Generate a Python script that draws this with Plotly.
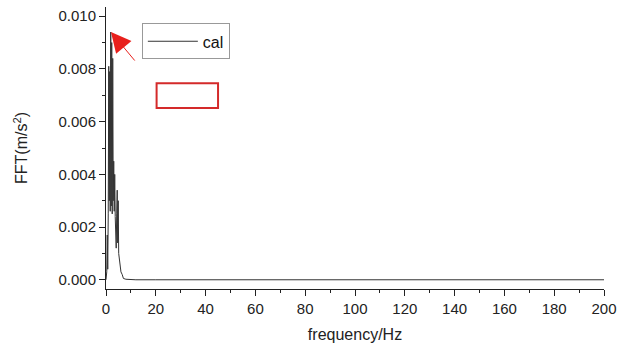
import plotly.graph_objects as go

# Frequency (Hz) and FFT amplitude (m/s^2)
freq = [0.0, 0.3, 0.5, 0.7, 0.9, 1.1, 1.3, 1.5, 1.7, 1.9, 2.1, 2.3, 2.5, 2.7, 2.9,
        3.1, 3.3, 3.5, 3.7, 3.9, 4.1, 4.3, 4.5, 4.7, 4.9, 5.1, 5.5, 6.0, 6.5, 7.0,
        8.0, 10.0, 12.0, 20.0, 50.0, 100.0, 150.0, 200.0]
amp = [0.0, 0.0003, 0.0017, 0.0004, 0.0025, 0.0081, 0.0030, 0.0079, 0.0026, 0.0094,
       0.0028, 0.0090, 0.0025, 0.0084, 0.0030, 0.0045, 0.0026, 0.0040, 0.0024, 0.0018,
       0.0012, 0.0025, 0.0034, 0.0014, 0.0030, 0.0010, 0.0006, 0.0003, 0.0002, 0.00005,
       0.00002, 0.00001, 0.0, 0.0, 0.0, 0.0, 0.0, 0.0]

series_name = "cal"
x_title = "frequency/Hz"
y_title = "FFT(m/s<sup>2</sup>)"

fig = go.Figure()
fig.add_trace(go.Scatter(x=freq, y=amp, mode="lines", name=series_name,
                         line=dict(color="#333333", width=1)))

font_family = "Liberation Sans, Arial, sans-serif"

fig.update_layout(
    width=624, height=347,
    margin=dict(l=106, r=14, t=7, b=56),
    paper_bgcolor="white", plot_bgcolor="white",
    font=dict(family=font_family, size=15, color="#222222"),
    showlegend=True,
    legend=dict(x=0.072, y=0.942, xanchor="left", yanchor="top",
                bordercolor="#999999", borderwidth=1, bgcolor="white",
                font=dict(size=16, color="#111111"),
                itemwidth=50, tracegroupgap=0),
    xaxis=dict(range=[0, 200], tickmode="linear", tick0=0, dtick=20,
               showgrid=False, zeroline=False, showline=True,
               linecolor="#222222", linewidth=1, ticks="outside", ticklen=6,
               tickcolor="#222222", mirror=False, ticklabeloverflow="allow",
               minor=dict(ticks="outside", ticklen=3, dtick=10, tickcolor="#222222"),
               title=dict(text=x_title, font=dict(size=16), standoff=12),
               tickfont=dict(size=15)),
    yaxis=dict(range=[-0.00035, 0.01035], tickmode="linear", tick0=0, dtick=0.002,
               tickformat=".3f", ticklabeloverflow="allow",
               showgrid=False, zeroline=False, showline=True,
               linecolor="#222222", linewidth=1, ticks="outside", ticklen=6,
               tickcolor="#222222", mirror=False,
               minor=dict(ticks="outside", ticklen=3, dtick=0.001, tickcolor="#222222"),
               title=dict(text=y_title, font=dict(size=16), standoff=26),
               tickfont=dict(size=15)),
)

# red arrow pointing at the peak
fig.add_annotation(x=2.0, y=0.0094, xref="x", yref="y", ax=25, ay=30,
                   axref="pixel", ayref="pixel", text="", showarrow=True,
                   arrowhead=2, arrowsize=4, arrowwidth=1, arrowcolor="#e8201c")

# red rectangle
fig.add_shape(type="rect", xref="paper", yref="paper",
              x0=0.1016, x1=0.225, y0=0.642, y1=0.730,
              line=dict(color="#d42a2a", width=2), fillcolor="rgba(0,0,0,0)")

fig.write_html("out.html")
